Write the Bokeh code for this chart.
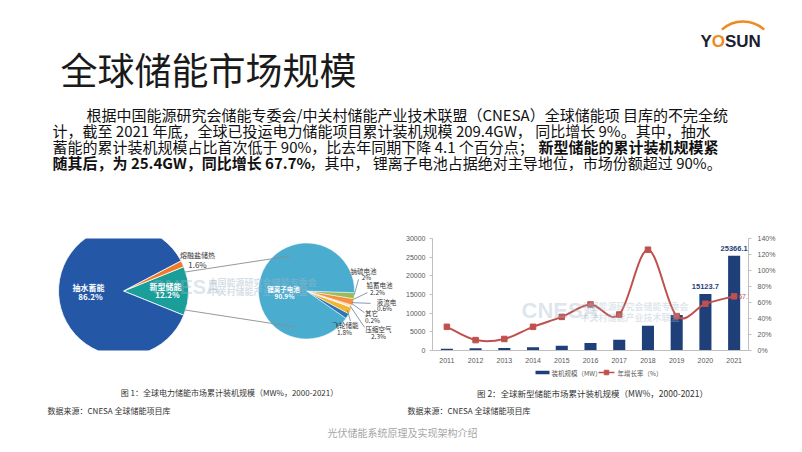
import numpy as np
from bokeh.plotting import figure
from bokeh.models import Range1d, FixedTicker, PrintfTickFormatter, LinearAxis, Label
from bokeh.layouts import column, row
from bokeh.embed import file_html
from bokeh.resources import INLINE
from bokeh.core.properties import value

CJK = "Noto Sans CJK SC"

# ---------------- data ----------------
title_text = "全球储能市场规模"
para_line1 = "根据中国能源研究会储能专委会/中关村储能产业技术联盟（CNESA）全球储能项 目库的不完全统"
para_line2 = "计，截至 2021 年底，全球已投运电力储能项目累计装机规模 209.4GW， 同比增长 9%。其中，抽水"
para_line3_normal = "蓄能的累计装机规模占比首次低于 90%，比去年同期下降 4.1 个百分点；"
para_line3_bold = "新型储能的累计装机规模紧"
para_line4_bold = "随其后，为 25.4GW，同比增长 67.7%"
para_line4_normal = "，其中， 锂离子电池占据绝对主导地位，市场份额超过 90%。"

pie1_labels = ["新型储能", "熔融盐储热", "抽水蓄能"]
pie1_values = [12.2, 1.6, 86.2]
pie1_colors = ["#1A9E99", "#EF7B2A", "#2458A6"]

# counter-clockwise order, starting from the lowest small slice
pie2_labels = ["飞轮储能", "压缩空气", "其它", "液流电", "铅蓄电池", "钠硫电池", "锂离子电池"]
pie2_values = [1.8, 2.3, 0.2, 0.6, 2.2, 2.0, 90.9]
pie2_colors = ["#2E75B6", "#F2B632", "#EDEDED", "#FAD3AE", "#F5913E", "#9BBB59", "#4AADCF"]

years = [2011, 2012, 2013, 2014, 2015, 2016, 2017, 2018, 2019, 2020, 2021]
capacity_mw = [500, 600, 700, 900, 1250, 2000, 2900, 6600, 9500, 15123.7, 25366.1]
growth_pct = [29.6, 13.0, 14.4, 29.6, 42.0, 57.6, 45.0, 126.0, 43.0, 58.4, 67.7]
left_ticks = [0, 5000, 10000, 15000, 20000, 25000, 30000]
right_ticks = [0, 20, 40, 60, 80, 100, 120, 140]

caption1 = "图 1：全球电力储能市场累计装机规模（MW%，2000-2021）"
caption2 = "图 2：全球新型储能市场累计装机规模（MW%，2000-2021）"
source_text = "数据来源：CNESA 全球储能项目库"
footer_text = "光伏储能系统原理及实现架构介绍"
legend_labels = ["装机规模（MW）", "年增长率（%）"]

BAR_COLOR = "#1F3F78"
LINE_COLOR = "#C0504D"


def canvas(w, h, x0, y0):
    p = figure(width=w, height=h, x_range=Range1d(x0, x0 + w), y_range=Range1d(y0 + h, y0),
               output_backend="svg", toolbar_location=None, min_border=0,
               x_axis_location=None, y_axis_location=None)
    p.grid.visible = False
    p.outline_line_color = None
    return p


def txt(p, x, y, s, size, color="#222222", align="left", bold=False, font=CJK, alpha=1.0,
        baseline="middle"):
    p.text(x=[x], y=[y], text=[s], text_font=value(font), text_font_size=size,
           text_color=color, text_align=align, text_baseline=baseline,
           text_font_style="bold" if bold else "normal", text_alpha=alpha)


fl = lambda a: [float(v) for v in a]

# ---------------- top: title, logo, paragraph ----------------
top = canvas(801, 220, 0, 0)
txt(top, 60, 68, title_text, "37px", color="#1A1A1A")

top.arc(x=[742.5], y=[52.6], radius=31.6, start_angle=np.radians(48), end_angle=np.radians(132),
        line_color="#EE8A22", line_width=2.4)
txt(top, 700, 41, "Y", "17px", color="#1B1E2E", bold=True, font="Liberation Sans")
txt(top, 711.3, 41, "O", "17px", color="#EE8A22", bold=True, font="Liberation Sans")
txt(top, 724.5, 41, "SUN", "17px", color="#1B1E2E", bold=True, font="Liberation Sans")

py = [114, 130, 146, 162]
fs = "15px"
txt(top, 86, py[0], para_line1, fs, color="#111111")
txt(top, 52, py[1], para_line2, fs, color="#111111")
txt(top, 52, py[2], para_line3_normal, fs, color="#111111")
txt(top, 538, py[2], para_line3_bold, fs, color="#111111", bold=True)
txt(top, 52, py[3], para_line4_bold, fs, color="#111111", bold=True)
txt(top, 309, py[3], para_line4_normal, fs, color="#111111")

# ---------------- middle left: pie of pie ----------------
left = canvas(400, 145, 0, 220)
c1x, c1y, r1 = 123, 288, 65
c2x, c2y, r2 = 306, 288, 48

f1 = np.array(pie1_values) / 100 * 2 * np.pi
s1 = -f1[0] / 2 + np.concatenate([[0], np.cumsum(f1)[:-1]])
e1 = s1 + f1
left.wedge(x=[c1x] * 3, y=[c1y] * 3, radius=r1, start_angle=fl(s1), end_angle=fl(e1),
           fill_color=pie1_colors, line_color="white", line_width=0.8)

f2 = np.array(pie2_values) / 100 * 2 * np.pi
small_total = f2[:-1].sum()
s2 = -small_total - np.radians(2) + np.concatenate([[0], np.cumsum(f2)[:-1]])
e2 = s2 + f2
left.wedge(x=[c2x] * 7, y=[c2y] * 7, radius=r2, start_angle=fl(s2), end_angle=fl(e2),
           fill_color=pie2_colors, line_color="white", line_width=0.5)

# connector lines (y axis inverted -> screen y = cy - r*sin(a))
a_top, a_bot = float(e1[0]), float(s1[0])
xs0 = [c1x + r1 * np.cos(a_top), c1x + r1 * np.cos(a_bot)]
ys0 = [c1y - r1 * np.sin(a_top), c1y - r1 * np.sin(a_bot)]
xs1 = [c2x + r2 * np.cos(np.radians(108)), c2x + r2 * np.cos(np.radians(-104))]
ys1 = [c2y - r2 * np.sin(np.radians(108)), c2y - r2 * np.sin(np.radians(-104))]
left.segment(x0=fl(xs0), y0=fl(ys0), x1=fl(xs1), y1=fl(ys1), line_color="#8C8C8C", line_width=0.9)

# watermark
txt(left, 150, 283, "CNESA", "20px", color="#9FB6C8", bold=True, font="Liberation Sans", alpha=0.35)
txt(left, 208, 277, "中国能源研究会储能专委会", "9px", color="#9FB6C8", bold=True, alpha=0.45)
txt(left, 208, 288, "中关村储能产业技术联盟", "9px", color="#9FB6C8", bold=True, alpha=0.45)

txt(left, 88, 283, pie1_labels[2], "8px", color="white", align="center", bold=True)
txt(left, 90, 295, f"{pie1_values[2]}%", "8px", color="white", align="center", bold=True)
txt(left, 165, 282, pie1_labels[0], "8px", color="white", align="center", bold=True)
txt(left, 167, 293, f"{pie1_values[0]}%", "8px", color="white", align="center", bold=True)
txt(left, 197, 242, pie1_labels[1], "7px", color="#333333", align="center")
txt(left, 197, 254, f"{pie1_values[1]}%", "8px", color="#333333", align="center")

txt(left, 283, 285, pie2_labels[6], "6.5px", color="white", align="center", bold=True)
txt(left, 284, 295, f"{pie2_values[6]}%", "6.5px", color="white", align="center", bold=True)

lab_pos = {  # name pos, pct pos, leader end
    "钠硫电池": ((363, 262), (366, 270), (358, 273)),
    "铅蓄电池": ((379, 280), (377, 289), (367, 290)),
    "液流电": ((386, 302), (384, 310), (370, 304)),
    "其它": ((371, 316), (372, 326), (364, 316)),
    "压缩空气": ((378, 337), (378, 346), (364, 335)),
    "飞轮储能": ((345, 332), (344, 341), (350, 327)),
}
lx0, ly0, lx1, ly1 = [], [], [], []
for i, name in enumerate(pie2_labels[:-1]):
    mid = float((s2[i] + e2[i]) / 2)
    (nx, ny), (px_, py_), (ex, ey) = lab_pos[name]
    lx0.append(float(c2x + r2 * np.cos(mid)))
    ly0.append(float(c2y - r2 * np.sin(mid)))
    lx1.append(ex)
    ly1.append(ey)
    txt(left, nx, ny, name, "6.5px", color="#333333", align="center")
    txt(left, px_, py_, f"{pie2_values[i]:g}%", "6.5px", color="#333333", align="center")
left.segment(x0=lx0, y0=ly0, x1=lx1, y1=ly1, line_color="#4F6F96", line_width=0.7)

# ---------------- middle right: bar + line chart ----------------
bar = figure(width=401, height=145, x_range=Range1d(2010.5, 2021.5), y_range=Range1d(0, 30000),
             output_backend="svg", toolbar_location=None,
             min_border_left=32, min_border_right=53, min_border_top=18, min_border_bottom=13)
bar.extra_y_ranges = {"pct": Range1d(0, 140)}
bar.grid.visible = False
bar.outline_line_color = None

bar.vbar(x=years, top=capacity_mw, width=0.42, fill_color=BAR_COLOR, line_color=None)

X = np.array(years, dtype=float)
Y = np.array(growth_pct, dtype=float)
Xp = np.concatenate([[X[0]], X, [X[-1]]])
Yp = np.concatenate([[Y[0]], Y, [Y[-1]]])
cx0 = X[:-1] + (Xp[2:-1] - Xp[:-3]) / 6
cy0 = Y[:-1] + (Yp[2:-1] - Yp[:-3]) / 6
cx1 = X[1:] - (Xp[3:] - Xp[1:-2]) / 6
cy1 = Y[1:] - (Yp[3:] - Yp[1:-2]) / 6
bar.bezier(x0=fl(X[:-1]), y0=fl(Y[:-1]), x1=fl(X[1:]), y1=fl(Y[1:]),
           cx0=fl(cx0), cy0=fl(cy0), cx1=fl(cx1), cy1=fl(cy1),
           line_color=LINE_COLOR, line_width=2.0, y_range_name="pct")
bar.scatter(x=years, y=growth_pct, marker="square", size=5.5, fill_color=LINE_COLOR,
            line_color=LINE_COLOR, y_range_name="pct")

bar.text(x=years[-2:], y=capacity_mw[-2:], text=[f"{v:.1f}" for v in capacity_mw[-2:]],
         text_font=value("Liberation Sans"), text_font_size="7.5px", text_font_style="bold",
         text_color=BAR_COLOR, text_align="center", text_baseline="bottom", y_offset=-5)
bar.add_layout(Label(x=years[-1], y=growth_pct[-1], text=f"{growth_pct[-1]}%", y_range_name="pct",
                     x_offset=4, text_font="Liberation Sans", text_font_size="7px",
                     text_color=LINE_COLOR, text_baseline="middle", text_align="left"))

bar.text(x=[2013.6], y=[10790], text=["CNESA"], text_font=value("Liberation Sans"),
         text_font_size="22px", text_font_style="bold", text_color="#9FB6C8", text_alpha=0.35,
         text_baseline="middle")
bar.text(x=[2015.65, 2015.65], y=[11900, 8950], text=["中国能源研究会储能专委会", "中关村储能产业技术联盟"],
         text_font=value(CJK), text_font_size="9px", text_font_style="bold",
         text_color="#9FB6C8", text_alpha=0.35, text_baseline="middle")

for ax in list(bar.yaxis) + list(bar.xaxis):
    ax.axis_line_color = "#BFBFBF"
    ax.major_tick_line_color = "#BFBFBF"
    ax.major_tick_in = 0
    ax.major_tick_out = 3
    ax.minor_tick_line_color = None
    ax.major_label_text_font_size = "7px"
    ax.major_label_text_color = "#595959"
    ax.major_label_text_font = "Liberation Sans"
bar.yaxis.ticker = FixedTicker(ticks=left_ticks)
bar.yaxis.major_label_standoff = 4
bar.xaxis.ticker = FixedTicker(ticks=years)
bar.xaxis.major_tick_line_color = None
bar.xaxis.major_label_standoff = 4

rax = LinearAxis(y_range_name="pct", ticker=FixedTicker(ticks=right_ticks),
                 formatter=PrintfTickFormatter(format="%d%%"))
rax.axis_line_color = "#BFBFBF"
rax.major_tick_line_color = "#BFBFBF"
rax.major_tick_in = 0
rax.major_tick_out = 3
rax.minor_tick_line_color = None
rax.major_label_text_font_size = "7px"
rax.major_label_text_color = "#595959"
rax.major_label_text_font = "Liberation Sans"
rax.major_label_standoff = 6
bar.add_layout(rax, "right")

# ---------------- bottom: legend keys, captions, sources, footer ----------------
bot = canvas(801, 86, 0, 365)
bot.rect(x=[542], y=[372], width=14, height=3.5, fill_color=BAR_COLOR, line_color=None)
bot.segment(x0=[598], y0=[372], x1=[614], y1=[372], line_color=LINE_COLOR, line_width=1.5)
bot.scatter(x=[606], y=[372], marker="square", size=4.5, fill_color=LINE_COLOR, line_color=LINE_COLOR)
txt(bot, 551, 372, legend_labels[0], "6.5px", color="#595959")
txt(bot, 617, 372, legend_labels[1], "6.5px", color="#595959")

txt(bot, 229, 392, caption1, "8px", color="#333333", align="center")
txt(bot, 592, 392, caption2, "8.5px", color="#333333", align="center")
txt(bot, 47, 410, source_text, "8px", color="#333333")
txt(bot, 407, 410, source_text, "8px", color="#333333")
txt(bot, 402, 432, footer_text, "10px", color="#A6A6A6", align="center")

layout = column(top, row(left, bar), bot)
open("out.html", "w").write(file_html(layout, INLINE))
